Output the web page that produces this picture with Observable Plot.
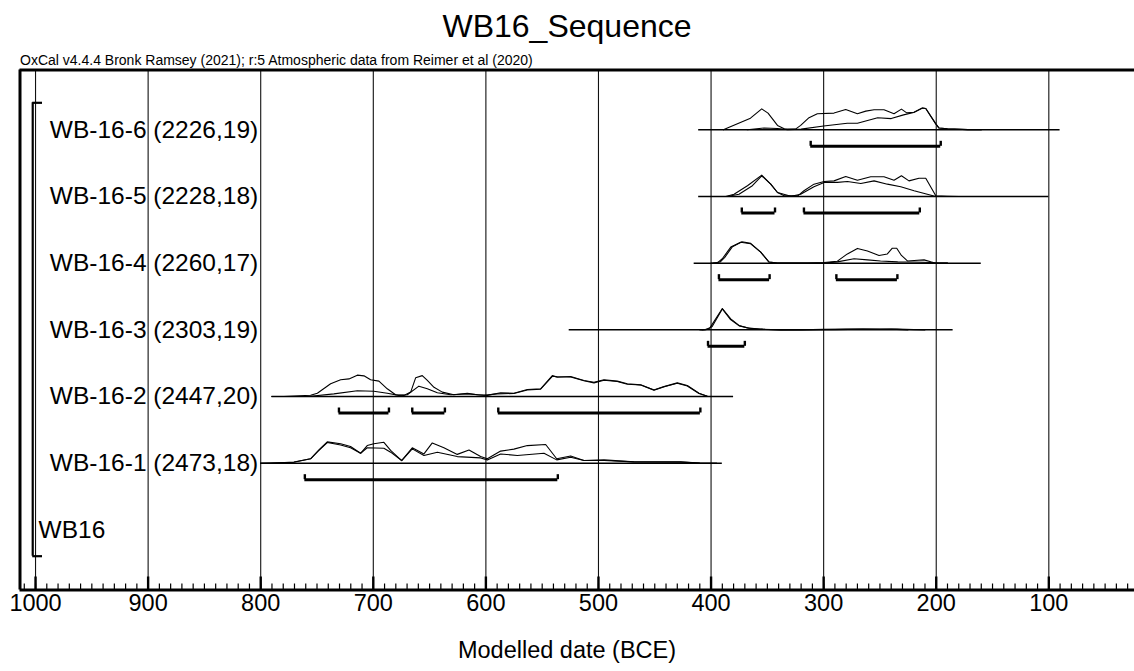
<!DOCTYPE html>
<html><head><meta charset="utf-8">
<script src="https://cdn.jsdelivr.net/npm/d3@7"></script>
<script src="https://cdn.jsdelivr.net/npm/@observablehq/plot@0.6"></script>
<style>
body{margin:0;background:#fff;font-family:"Liberation Sans",Arial,sans-serif;color:#000;}
#wrap{width:1134px;height:671px;overflow:hidden;position:relative;}
#title{height:48px;padding-top:2px;line-height:48px;text-align:center;font-size:32px;}
#xlabel{height:46px;line-height:50px;text-align:center;font-size:23.5px;}
</style></head><body>
<div id="wrap"><div id="title">WB16_Sequence</div><div id="chart"></div><div id="xlabel">Modelled date (BCE)</div></div>
<script>
// ---------- data ----------
const sampleNames = ["WB-16-6", "WB-16-5", "WB-16-4", "WB-16-3", "WB-16-2", "WB-16-1"];
const c14Ages = [2226, 2228, 2260, 2303, 2447, 2473];
const c14Errors = [19, 18, 17, 19, 20, 18];
const sequenceName = "WB16";
const subtitleText = "OxCal v4.4.4 Bronk Ramsey (2021); r:5 Atmospheric data from Reimer et al (2020)";
const majorTicks = [1000, 900, 800, 700, 600, 500, 400, 300, 200, 100];
const minorTicks = d3.range(1010, 20, -10);

// plotted extent of each distribution (BCE)
const rangeStart = [411, 411, 415, 526, 790, 800];
const rangeEnd = [90, 100, 160, 185, 380, 390];

// 95.4% ranges (BCE)
const hpd6 = [[311.5, 196]];
const hpd5 = [[372.7, 343.2], [317.5, 214.6]];
const hpd4 = [[393, 348], [288.7, 234.5]];
const hpd3 = [[402.7, 370]];
const hpd2 = [[730.5, 686.1], [665.4, 636.4], [589, 409.5]];
const hpd1 = [[760.8, 536.1]];

// probability curves [year BCE, relative probability]
const wb6Unmodelled = [[389,0],[385.5,0.08],[365,0.53],[355,0.95],[349.4,0.76],[341,0.2],[335,0.05],[325,0.03],[320.4,0.2],[313,0.55],[305.6,0.73],[290.8,0.76],[280.4,0.92],[270,0.73],[262.6,0.85],[255.2,0.91],[246.4,0.91],[237.5,0.73],[230.9,0.94],[226.2,0.77],[219.7,0.8],[212.3,0.99],[209.3,0.97],[200.4,0.27],[197.5,0.08],[190,0.05],[172,0.01],[160,0]];
const wb6Modelled = [[368,0],[353,0.08],[341,0.06],[332,0.01],[320,0.03],[300,0.17],[279,0.3],[270,0.3],[252,0.55],[240,0.51],[229,0.68],[220,0.79],[212.3,0.99],[209.3,0.97],[200.4,0.27],[197.5,0.08],[190,0.05],[172,0.01],[160,0]];
const wb5Unmodelled = [[387,0],[379.6,0.1],[367.7,0.49],[355,0.97],[347,0.56],[341,0.18],[335,0.03],[323,0.03],[317.5,0.26],[308.6,0.56],[299.6,0.68],[290.8,0.71],[280.4,0.91],[270,0.74],[258.2,0.9],[246.4,0.9],[237.5,0.74],[230.9,0.94],[224.2,0.71],[215.3,0.83],[209.3,0.83],[200.4,0.03],[190,0.01],[180,0]];
const wb5Modelled = [[385.5,0],[375.2,0.1],[363.3,0.49],[355,0.94],[347,0.56],[341,0.18],[329,0.01],[320.4,0.1],[308.6,0.44],[299.6,0.64],[287.8,0.64],[278.9,0.68],[267,0.59],[255.2,0.71],[243.4,0.56],[231.5,0.44],[219.7,0.26],[200.4,0],[190,0]];
const wb4Unmodelled = [[400,0],[394.4,0.01],[390,0.2],[382.5,0.73],[373.7,0.95],[364.8,0.88],[355.9,0.5],[348.5,0.05],[341,0],[330,0],[314.4,0.01],[299.6,0.03],[287.8,0.09],[278.9,0.42],[270,0.67],[261.1,0.55],[250.8,0.35],[243.4,0.42],[239,0.68],[235.1,0.68],[230.9,0.35],[225.6,0.1],[219.7,0.12],[210.8,0.15],[204.9,0.06],[200.4,0],[190,0]];
const wb4Modelled = [[398,0],[392,0.05],[388,0.25],[381,0.75],[372.5,0.97],[364.8,0.9],[355.9,0.5],[348.5,0.05],[341,0],[300,0],[287.8,0.06],[273,0.2],[261.1,0.15],[249.5,0.1],[234.2,0.06],[219.7,0.05],[204.9,0.03],[198,0],[190,0]];
const wb3Unmodelled = [[410,0],[404.8,0.01],[401,0.09],[390,0.97],[382.5,0.5],[375.2,0.2],[367.7,0.09],[355.9,0.03],[338,0],[320,0],[300,0.02],[280,0.03],[265,0.04],[250,0.02],[235,0.04],[220,0.01],[210,0]];
const wb3Modelled = [[408,0],[403,0.02],[399,0.15],[390,0.95],[383,0.48],[375,0.18],[366,0.07],[352,0.02],[338,0],[290,0.01],[265,0.03],[240,0.03],[225,0]];
const wb2Unmodelled = [[790,0],[779.4,0],[755.7,0.06],[749.7,0.15],[737.9,0.58],[729,0.76],[721.6,0.8],[714.2,0.97],[708.3,0.94],[702.4,0.76],[695,0.7],[687.6,0.35],[680.2,0.08],[672.8,0.05],[666.8,0.2],[662.4,0.85],[656.5,0.95],[652,0.73],[646.1,0.42],[638.7,0.2],[628.4,0.08],[616.5,0.15],[607.6,0.08],[598.7,0.05],[586.9,0.17],[575.1,0.15],[563.2,0.32],[551.4,0.35],[541,0.95],[536.6,0.88],[524.7,0.91],[512.9,0.73],[504,0.65],[495.1,0.76],[483.3,0.7],[474.4,0.58],[462.5,0.53],[450.7,0.3],[441.8,0.45],[430,0.62],[421.1,0.5],[410.7,0.15],[403.3,0.01],[395,0],[385,0]];
const wb2Modelled = [[790,0],[755.7,0.01],[735,0.12],[714.2,0.26],[699.5,0.24],[687.6,0.15],[677.3,0.05],[669.8,0.08],[659.5,0.47],[652,0.35],[643.1,0.17],[631.3,0.08],[616.5,0.12],[601.7,0.06],[590,0.12],[575.1,0.14],[563.2,0.3],[551.4,0.33],[541,0.92],[536.6,0.9],[524.7,0.89],[512.9,0.72],[504,0.62],[495.1,0.74],[483.3,0.68],[474.4,0.56],[462.5,0.52],[450.7,0.29],[441.8,0.44],[430,0.6],[421.1,0.48],[410.7,0.14],[403.3,0.01],[395,0],[385,0]];
const wb1Unmodelled = [[800,0],[791.2,0],[770.5,0.05],[755.7,0.2],[748.3,0.6],[740.9,0.97],[729,0.88],[720.2,0.76],[711.3,0.45],[705.4,0.8],[699.5,0.88],[690.6,0.95],[684.6,0.58],[674.8,0.12],[665.4,0.7],[655,0.42],[647.6,0.92],[637.3,0.7],[625.4,0.4],[615,0.6],[604.7,0.3],[598.7,0.2],[586.9,0.55],[575.1,0.64],[563.2,0.8],[546.9,0.85],[537.1,0.2],[524.7,0.33],[512.9,0.12],[495.1,0.15],[468.5,0.06],[427,0.06],[410,0.01],[395,0]];
const wb1Modelled = [[800,0],[770.5,0.04],[755.7,0.2],[748.3,0.58],[740.9,0.94],[729,0.83],[720.2,0.7],[711.3,0.45],[705.4,0.7],[690.6,0.68],[684.6,0.5],[674.8,0.12],[665.4,0.65],[655,0.35],[643.1,0.5],[625.4,0.3],[604.7,0.24],[598.7,0.15],[586.9,0.42],[572.1,0.35],[548.4,0.45],[537.1,0.15],[524.7,0.27],[512.9,0.12],[495.1,0.12],[468.5,0.06],[427,0.05],[410,0.01],[395,0]];

// ---------- assemble tables ----------
const unmodelled = [wb6Unmodelled, wb5Unmodelled, wb4Unmodelled, wb3Unmodelled, wb2Unmodelled, wb1Unmodelled];
const modelled = [wb6Modelled, wb5Modelled, wb4Modelled, wb3Modelled, wb2Modelled, wb1Modelled];
const hpds = [hpd6, hpd5, hpd4, hpd3, hpd2, hpd1];

const rows = sampleNames.map((n, i) => ({row: i, label: `${n} (${c14Ages[i]},${c14Errors[i]})`, start: rangeStart[i], end: rangeEnd[i]}));
const curvePts = [];
rows.forEach((r, i) => {
  unmodelled[i].forEach(([year, p]) => curvePts.push({key: "u" + i, row: i, year, p}));
  modelled[i].forEach(([year, p]) => curvePts.push({key: "m" + i, row: i, year, p}));
});
const ranges = [];
hpds.forEach((h, i) => h.forEach(([from, to]) => ranges.push({row: i, from, to})));
const rangeEnds = ranges.flatMap(d => [{row: d.row, x: d.from}, {row: d.row, x: d.to}]);
const seqRow = sampleNames.length;

// ---------- layout ----------
const rowPx = 66.68;
const peak = 22 / rowPx;
const brOff = 16.5 / rowPx;
const yTop = -0.897, yBottom = seqRow + 0.902;
const xLeft = 1013.8, xRight = 23.9;
const seqTop = 0 - 0.405, seqBottom = seqRow + 0.395;
const seqX = 1002.5, seqTickX = 993.8;
const labelX = 800;

const font = "Liberation Sans, Arial, sans-serif";
const chart = Plot.plot({
  width: 1134, height: 575,
  marginTop: 19.5, marginBottom: 35.5, marginLeft: 19.5, marginRight: 0,
  x: {domain: [xLeft, xRight], axis: null},
  y: {domain: [yBottom, yTop], axis: null},
  style: {fontFamily: font, color: "#000", background: "#fff", overflow: "visible"},
  marks: [
    Plot.ruleX(majorTicks, {x: d => d, y1: yBottom, y2: yTop, stroke: "#111", strokeWidth: 1.1}),
    Plot.ruleX(minorTicks, {x: d => d, y1: yBottom, y2: yBottom - 6 / rowPx, stroke: "#000", strokeWidth: 1.2}),
    Plot.ruleX(majorTicks, {x: d => d, y1: yBottom, y2: yBottom - 13 / rowPx, stroke: "#000", strokeWidth: 2.4}),
    Plot.ruleY(rows, {y: "row", x1: "start", x2: "end", stroke: "#000", strokeWidth: 1.5}),
    Plot.line(curvePts, {x: "year", y: d => d.row - d.p * peak, z: "key", stroke: "#000", strokeWidth: 1.1, strokeLinejoin: "round"}),
    Plot.ruleY(ranges, {y: d => d.row + brOff, x1: "from", x2: "to", stroke: "#000", strokeWidth: 3}),
    Plot.ruleX(rangeEnds, {x: "x", y1: d => d.row + brOff, y2: d => d.row + brOff - 5 / rowPx, stroke: "#000", strokeWidth: 2.4}),
    Plot.ruleX([seqX], {y1: seqTop, y2: seqBottom, stroke: "#000", strokeWidth: 2.2}),
    Plot.ruleY([seqTop, seqBottom], {y: d => d, x1: seqX, x2: seqTickX, stroke: "#000", strokeWidth: 2.2}),
    Plot.text(rows, {x: labelX, y: "row", text: "label", textAnchor: "end", dx: -2.5, fontSize: 24.5, fill: "#000"}),
    Plot.text([sequenceName], {x: 1000, y: seqRow, text: d => d, textAnchor: "start", dx: 3, fontSize: 24.5, fill: "#000"}),
    Plot.ruleY([yBottom], {stroke: "#000", strokeWidth: 3}),
    Plot.ruleY([yTop], {stroke: "#000", strokeWidth: 3}),
    Plot.ruleX([xLeft], {y1: yBottom, y2: yTop, stroke: "#000", strokeWidth: 3}),
    Plot.text(majorTicks, {x: d => d, frameAnchor: "bottom", lineAnchor: "middle", dy: 13.5, text: d => String(d), fontSize: 23.5, fill: "#000"}),
    Plot.text([subtitleText], {frameAnchor: "top-left", textAnchor: "start", lineAnchor: "middle", dy: -9, text: d => d, fontSize: 14, fill: "#000"})
  ]
});
document.getElementById("chart").appendChild(chart);
</script></body></html>
